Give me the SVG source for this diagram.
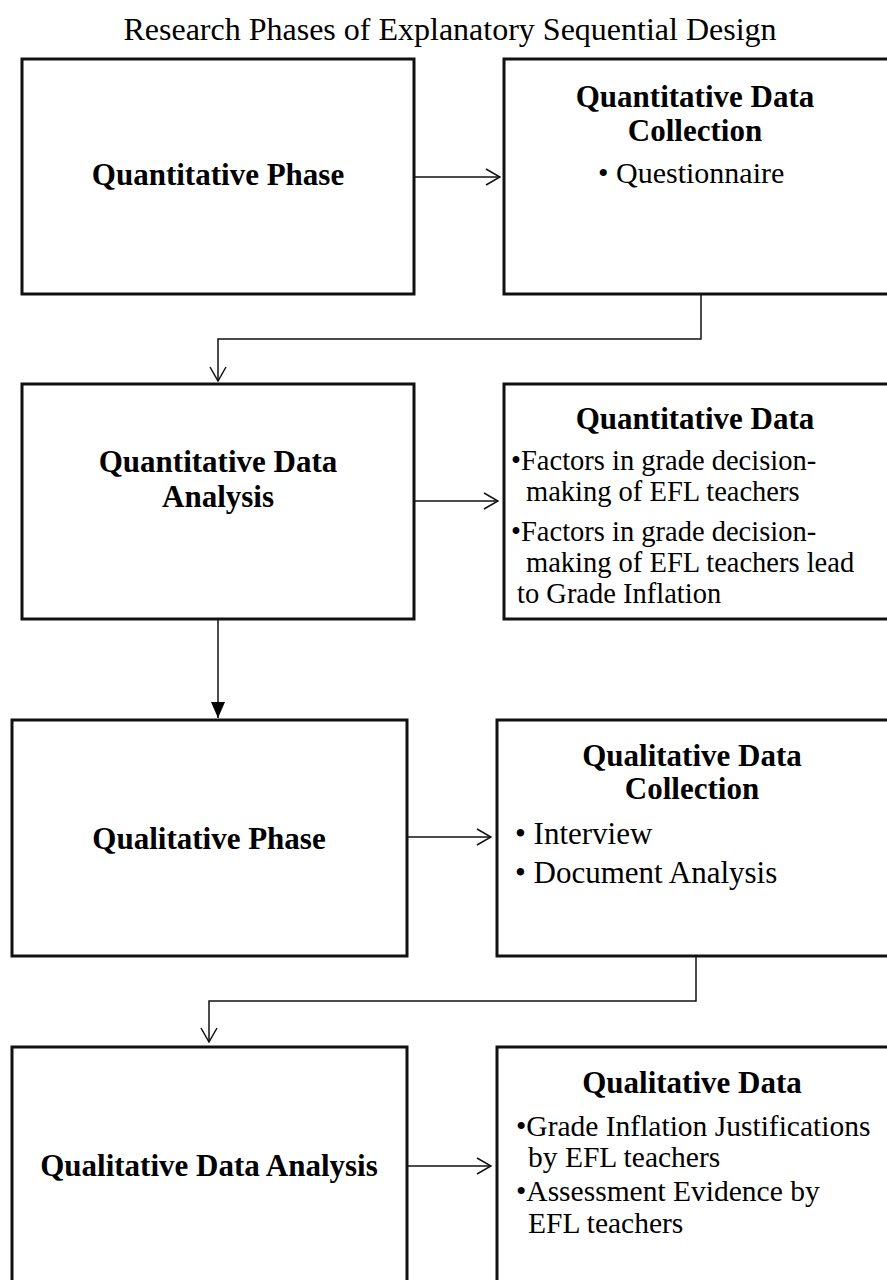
<svg xmlns="http://www.w3.org/2000/svg" width="887" height="1280" viewBox="0 0 887 1280">
<defs>
<style>
.box{fill:#fff;stroke:#111;stroke-width:3}
.con{fill:none;stroke:#111;stroke-width:1.5}
.t{font-family:"Liberation Serif","Times New Roman",serif;fill:#000}
.h{font-size:31px;font-weight:bold;text-anchor:middle}
.b{font-size:30px}
.s{font-size:28.5px}
.title{font-size:32px;text-anchor:middle}
</style>
<marker id="open" markerWidth="16" markerHeight="18" viewBox="0 0 16 18" refX="15" refY="9" orient="auto" markerUnits="userSpaceOnUse">
<path d="M1,1 L15,9 L1,17" fill="none" stroke="#111" stroke-width="1.5"/>
</marker>
<marker id="solid" markerWidth="16" markerHeight="16" viewBox="0 0 16 16" refX="16" refY="8" orient="auto" markerUnits="userSpaceOnUse">
<path d="M0,1 L16,8 L0,15 Z" fill="#000"/>
</marker>
</defs>
<rect width="887" height="1280" fill="#fff"/>
<text class="t title" x="450" y="40">Research Phases of Explanatory Sequential Design</text>

<g id="connectors">
<line class="con" x1="415" y1="177" x2="500" y2="177" marker-end="url(#open)"/>
<polyline class="con" points="701,295 701,339 218,339 218,381" marker-end="url(#open)"/>
<line class="con" x1="415" y1="501" x2="498" y2="501" marker-end="url(#open)"/>
<line class="con" x1="218" y1="620" x2="218" y2="718" marker-end="url(#solid)"/>
<line class="con" x1="408" y1="837" x2="491" y2="837" marker-end="url(#open)"/>
<polyline class="con" points="696,957 696,1001 209,1001 209,1042" marker-end="url(#open)"/>
<line class="con" x1="408" y1="1166" x2="491" y2="1166" marker-end="url(#open)"/>
</g>

<g id="quant-phase">
<rect class="box" x="22" y="59" width="392" height="235"/>
<text class="t h" x="218" y="185">Quantitative Phase</text>
</g>
<g id="quant-collection">
<rect class="box" x="504" y="59" width="400" height="235"/>
<text class="t h" x="695" y="107">Quantitative Data</text>
<text class="t h" x="695" y="141">Collection</text>
<text class="t b" x="598" y="183">• Questionnaire</text>
</g>
<g id="quant-analysis">
<rect class="box" x="22" y="384" width="392" height="235"/>
<text class="t h" x="218" y="472">Quantitative Data</text>
<text class="t h" x="218" y="507">Analysis</text>
</g>
<g id="quant-data">
<rect class="box" x="504" y="384" width="400" height="235"/>
<text class="t h" x="695" y="429">Quantitative Data</text>
<text class="t s" x="511" y="470">•Factors in grade decision-</text>
<text class="t s" x="526" y="501">making of EFL teachers</text>
<text class="t s" x="511" y="541">•Factors in grade decision-</text>
<text class="t s" x="526" y="572">making of EFL teachers lead</text>
<text class="t s" x="517" y="603">to Grade Inflation</text>
</g>
<g id="qual-phase">
<rect class="box" x="12" y="720" width="395" height="236"/>
<text class="t h" x="209" y="849">Qualitative Phase</text>
</g>
<g id="qual-collection">
<rect class="box" x="497" y="720" width="400" height="236"/>
<text class="t h" x="692" y="766">Qualitative Data</text>
<text class="t h" x="692" y="799">Collection</text>
<text class="t b" x="515" y="844" style="font-size:31px">• Interview</text>
<text class="t b" x="515" y="883" style="font-size:31px">• Document Analysis</text>
</g>
<g id="qual-analysis">
<rect class="box" x="12" y="1047" width="395" height="240"/>
<text class="t h" x="209" y="1176">Qualitative Data Analysis</text>
</g>
<g id="qual-data">
<rect class="box" x="497" y="1047" width="400" height="240"/>
<text class="t h" x="692" y="1093">Qualitative Data</text>
<text class="t b" x="516" y="1136" style="font-size:29.5px">•Grade Inflation Justifications</text>
<text class="t b" x="528" y="1167" style="font-size:29.5px">by EFL teachers</text>
<text class="t b" x="516" y="1201" style="font-size:29.5px">•Assessment Evidence by</text>
<text class="t b" x="528" y="1233" style="font-size:29.5px">EFL teachers</text>
</g>
</svg>
